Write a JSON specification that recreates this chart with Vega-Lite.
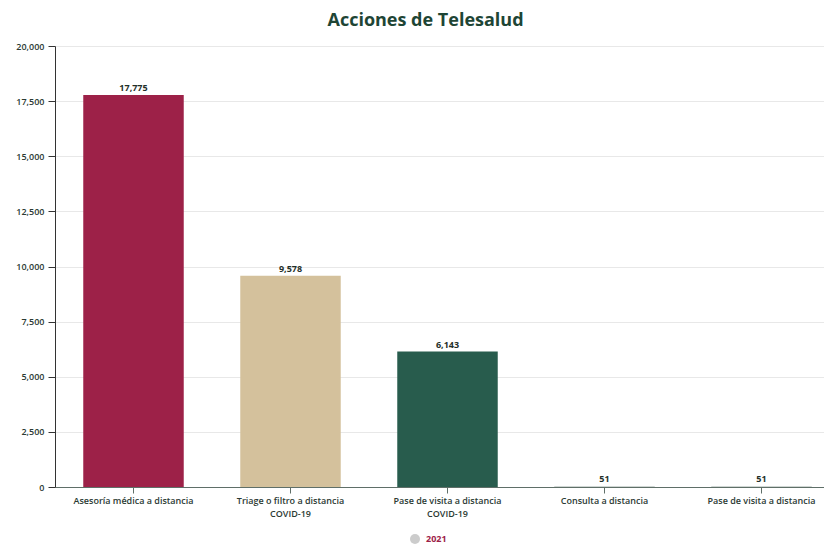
{
  "$schema": "https://vega.github.io/schema/vega-lite/v6.json",
  "width": 769,
  "height": 441,
  "autosize": {"type": "none"},
  "padding": {"left": 55, "top": 46, "right": 0, "bottom": 58},
  "background": "white",
  "config": {
    "view": {"stroke": null},
    "font": "Open Sans"
  },
  "title": {
    "text": "Acciones de Telesalud",
    "font": "Open Sans",
    "fontSize": 18,
    "fontWeight": "bold",
    "color": "#1e4535",
    "anchor": "middle",
    "dx": -14,
    "offset": 12
  },
  "datasets": {
    "acciones": [
      {"accion": "Asesoría médica a distancia", "valor": 17775},
      {"accion": "Triage o filtro a distancia COVID-19", "valor": 9578},
      {"accion": "Pase de visita a distancia COVID-19", "valor": 6143},
      {"accion": "Consulta a distancia", "valor": 51},
      {"accion": "Pase de visita a distancia", "valor": 51}
    ],
    "serie": [{"serie": "2021"}]
  },
  "encoding": {
    "x": {
      "field": "accion",
      "type": "nominal",
      "sort": null,
      "scale": {"range": [0, 785], "paddingInner": 0.36, "paddingOuter": 0.18},
      "axis": {
        "title": null,
        "labelAngle": 0,
        "labelFontSize": 9,
        "labelFontWeight": 600,
        "labelColor": "#2b3a33",
        "labelPadding": 3,
        "labelLimit": 300,
        "labelLineHeight": 13,
        "labelExpr": "indexof(datum.label, ' COVID-19') > 0 ? [replace(datum.label, ' COVID-19', ''), 'COVID-19'] : datum.label",
        "domainColor": "#5f6f68",
        "tickColor": "#5f6f68",
        "tickSize": 6,
        "grid": false
      }
    },
    "y": {
      "field": "valor",
      "type": "quantitative",
      "scale": {"domain": [0, 20000], "nice": false},
      "axis": {
        "title": null,
        "values": [0, 2500, 5000, 7500, 10000, 12500, 15000, 17500, 20000],
        "format": ",.0f",
        "labelFontSize": 9,
        "labelFontWeight": 600,
        "labelColor": "#2b3a33",
        "labelPadding": 4,
        "domainColor": "#333333",
        "tickColor": "#333333",
        "tickSize": 7,
        "gridColor": "#e8e8e8"
      }
    }
  },
  "layer": [
    {
      "data": {"name": "acciones"},
      "mark": {"type": "bar"},
      "encoding": {
        "color": {
          "field": "accion",
          "type": "nominal",
          "scale": {
            "domain": ["Asesoría médica a distancia", "Triage o filtro a distancia COVID-19", "Pase de visita a distancia COVID-19", "Consulta a distancia", "Pase de visita a distancia"],
            "range": ["#9d2148", "#d4c19c", "#285c4d", "#cfd6d3", "#cfd6d3"]
          },
          "legend": null
        }
      }
    },
    {
      "data": {"name": "acciones"},
      "mark": {"type": "text", "dy": -2, "baseline": "bottom", "fontSize": 9, "fontWeight": "bold", "color": "#1f2f29"},
      "encoding": {
        "text": {"field": "valor", "type": "quantitative", "format": ",.0f"}
      }
    },
    {
      "data": {"name": "serie"},
      "mark": {"type": "point", "filled": true, "opacity": 0},
      "encoding": {
        "x": {"value": 0},
        "y": {"value": 0},
        "color": {
          "field": "serie",
          "type": "nominal",
          "scale": {"range": ["#cccccc"]},
          "legend": {
            "title": null,
            "orient": "none",
            "legendX": 354,
            "legendY": 487,
            "symbolType": "circle",
            "symbolSize": 100,
            "symbolOpacity": 1,
            "labelColor": "#9d2148",
            "labelFontWeight": "bold",
            "labelFontSize": 9,
            "labelOffset": 5
          }
        }
      }
    }
  ],
  "resolve": {"scale": {"color": "independent"}}
}
